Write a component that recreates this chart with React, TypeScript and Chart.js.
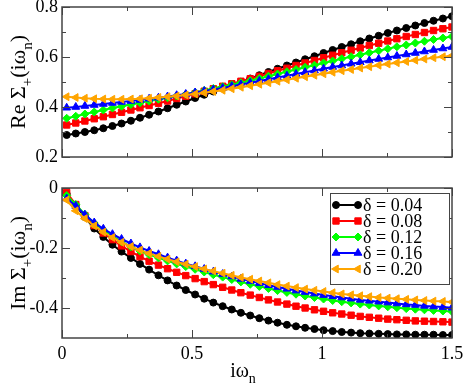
import React, { useEffect, useRef } from 'react';
import { Chart, registerables } from 'chart.js';
import { drawPoint } from 'chart.js/helpers';

Chart.register(...registerables);

const FAMILY = "'Liberation Serif', 'Times New Roman', serif";
Chart.defaults.font.family = FAMILY;

// Matsubara frequencies i·omega_n (x values)
const omega = [0.018, 0.053, 0.088, 0.124, 0.159, 0.194, 0.229, 0.265, 0.300, 0.335, 0.371, 0.406, 0.441, 0.476, 0.512, 0.547, 0.582, 0.618, 0.653, 0.688, 0.724, 0.759, 0.794, 0.829, 0.865, 0.900, 0.935, 0.971, 1.006, 1.041, 1.076, 1.112, 1.147, 1.182, 1.218, 1.253, 1.288, 1.324, 1.359, 1.394, 1.429, 1.465, 1.500];

const deltaLabels = ['δ = 0.04', 'δ = 0.08', 'δ = 0.12', 'δ = 0.16', 'δ = 0.20'];

// Re Sigma_+(i omega_n)
const reD004 = [0.288, 0.294, 0.300, 0.307, 0.315, 0.324, 0.334, 0.345, 0.357, 0.369, 0.382, 0.395, 0.409, 0.422, 0.436, 0.449, 0.462, 0.475, 0.488, 0.501, 0.514, 0.527, 0.540, 0.553, 0.566, 0.578, 0.591, 0.603, 0.616, 0.628, 0.640, 0.651, 0.663, 0.674, 0.685, 0.696, 0.706, 0.716, 0.726, 0.736, 0.745, 0.754, 0.763];
const reD008 = [0.328, 0.336, 0.344, 0.353, 0.361, 0.370, 0.379, 0.388, 0.397, 0.406, 0.415, 0.424, 0.434, 0.443, 0.453, 0.463, 0.473, 0.483, 0.493, 0.503, 0.513, 0.523, 0.534, 0.545, 0.555, 0.566, 0.576, 0.586, 0.597, 0.607, 0.617, 0.627, 0.636, 0.646, 0.655, 0.664, 0.673, 0.682, 0.690, 0.698, 0.706, 0.713, 0.720];
const reD012 = [0.355, 0.363, 0.372, 0.380, 0.388, 0.396, 0.403, 0.410, 0.417, 0.424, 0.431, 0.437, 0.444, 0.451, 0.458, 0.466, 0.474, 0.481, 0.489, 0.497, 0.505, 0.514, 0.523, 0.532, 0.541, 0.550, 0.559, 0.567, 0.576, 0.584, 0.593, 0.601, 0.609, 0.617, 0.625, 0.633, 0.641, 0.648, 0.656, 0.663, 0.670, 0.676, 0.682];
const reD016 = [0.397, 0.400, 0.404, 0.408, 0.412, 0.416, 0.420, 0.424, 0.428, 0.433, 0.437, 0.442, 0.447, 0.452, 0.458, 0.464, 0.470, 0.476, 0.483, 0.490, 0.497, 0.504, 0.511, 0.518, 0.525, 0.532, 0.539, 0.546, 0.553, 0.560, 0.566, 0.573, 0.579, 0.586, 0.592, 0.598, 0.604, 0.610, 0.616, 0.622, 0.628, 0.634, 0.640];
const reD020 = [0.441, 0.438, 0.435, 0.433, 0.432, 0.431, 0.431, 0.432, 0.433, 0.435, 0.438, 0.441, 0.444, 0.448, 0.452, 0.457, 0.462, 0.467, 0.473, 0.479, 0.485, 0.491, 0.497, 0.503, 0.509, 0.515, 0.521, 0.527, 0.533, 0.539, 0.545, 0.550, 0.556, 0.561, 0.567, 0.572, 0.577, 0.582, 0.587, 0.592, 0.597, 0.601, 0.605];

// Im Sigma_+(i omega_n)
const imD004 = [-0.020, -0.058, -0.097, -0.135, -0.163, -0.189, -0.212, -0.233, -0.253, -0.272, -0.291, -0.308, -0.325, -0.340, -0.355, -0.369, -0.382, -0.394, -0.405, -0.416, -0.425, -0.434, -0.442, -0.449, -0.456, -0.461, -0.466, -0.470, -0.474, -0.477, -0.480, -0.482, -0.484, -0.485, -0.486, -0.487, -0.488, -0.488, -0.489, -0.489, -0.489, -0.490, -0.490];
const imD008 = [-0.015, -0.055, -0.092, -0.125, -0.150, -0.172, -0.193, -0.212, -0.229, -0.244, -0.257, -0.269, -0.281, -0.292, -0.302, -0.312, -0.322, -0.331, -0.340, -0.349, -0.357, -0.365, -0.373, -0.380, -0.387, -0.394, -0.400, -0.406, -0.411, -0.416, -0.420, -0.424, -0.428, -0.431, -0.434, -0.437, -0.439, -0.441, -0.443, -0.444, -0.445, -0.446, -0.447];
const imD012 = [-0.025, -0.055, -0.088, -0.117, -0.140, -0.160, -0.179, -0.196, -0.210, -0.222, -0.233, -0.243, -0.253, -0.262, -0.271, -0.280, -0.289, -0.297, -0.305, -0.313, -0.321, -0.328, -0.335, -0.342, -0.348, -0.354, -0.360, -0.365, -0.370, -0.375, -0.379, -0.383, -0.387, -0.390, -0.393, -0.396, -0.399, -0.402, -0.404, -0.406, -0.408, -0.410, -0.412];
const imD016 = [-0.035, -0.060, -0.089, -0.115, -0.136, -0.154, -0.170, -0.185, -0.198, -0.210, -0.221, -0.232, -0.242, -0.252, -0.261, -0.270, -0.279, -0.287, -0.295, -0.303, -0.310, -0.317, -0.324, -0.330, -0.336, -0.342, -0.347, -0.352, -0.357, -0.361, -0.365, -0.369, -0.373, -0.376, -0.379, -0.382, -0.385, -0.388, -0.390, -0.393, -0.395, -0.397, -0.399];
const imD020 = [-0.040, -0.076, -0.102, -0.126, -0.147, -0.165, -0.181, -0.195, -0.207, -0.218, -0.228, -0.237, -0.246, -0.254, -0.262, -0.270, -0.277, -0.284, -0.291, -0.298, -0.304, -0.310, -0.316, -0.322, -0.327, -0.332, -0.337, -0.341, -0.345, -0.349, -0.353, -0.356, -0.359, -0.362, -0.365, -0.367, -0.369, -0.371, -0.373, -0.375, -0.377, -0.378, -0.380];

const xTicks = [0, 0.5, 1, 1.5];
const xMinorTicks = [0.25, 0.75, 1.25];
const reTicks = [0.2, 0.4, 0.6, 0.8];
const reMinorTicks = [0.3, 0.5, 0.7];
const imTicks = [-0.4, -0.2, 0];
const imMinorTicks = [-0.3, -0.1];

const colors = ['#000000', '#ff0000', '#00ff00', '#0000ff', '#ffa500'];
const pointStyles = ['circle', 'rect', 'rectRot', 'triangle', 'triangle'];
const pointRotations = [0, 0, 0, 0, -90];
const pointRadii = [3.5, 4.5, 4, 4.5, 4.5];

type Part = { t: string; sub?: boolean };

const fmt = (v: number) => (v === 0 ? '0' : Number.isInteger(v) ? String(v) : v.toFixed(1));

function makeDatasets(series: number[][]) {
  return series.map((ys, i) => ({
    label: deltaLabels[i],
    data: omega.map((x, k) => ({ x, y: ys[k] })),
    borderColor: colors[i],
    backgroundColor: colors[i],
    pointBackgroundColor: colors[i],
    pointBorderColor: colors[i],
    borderWidth: 2,
    pointRadius: pointRadii[i],
    pointStyle: pointStyles[i],
    pointRotation: pointRotations[i],
    pointBorderWidth: 1,
    tension: 0,
    order: 4 - i,
  }));
}

function drawParts(ctx: CanvasRenderingContext2D, parts: Part[], cx: number, cy: number, rotate: boolean, size: number) {
  const main = `${size}px ${FAMILY}`;
  const sub = `${Math.round(size * 0.7)}px ${FAMILY}`;
  let w = 0;
  for (const p of parts) {
    ctx.font = p.sub ? sub : main;
    w += ctx.measureText(p.t).width;
  }
  ctx.save();
  ctx.translate(cx, cy);
  if (rotate) ctx.rotate(-Math.PI / 2);
  ctx.fillStyle = '#000';
  ctx.textAlign = 'left';
  ctx.textBaseline = 'alphabetic';
  let u = -w / 2;
  for (const p of parts) {
    ctx.font = p.sub ? sub : main;
    ctx.fillText(p.t, u, p.sub ? size * 0.3 : 0);
    u += ctx.measureText(p.t).width;
  }
  ctx.restore();
}

function framePlugin(yMajor: number[], yMinor: number[]) {
  return {
    id: 'frameTicks',
    afterDatasetsDraw(chart: any) {
      const { ctx, chartArea: a, scales } = chart;
      const xs = scales.x;
      const ys = scales.y;
      ctx.save();
      ctx.strokeStyle = '#444';
      ctx.lineWidth = 1;
      const line = (x1: number, y1: number, x2: number, y2: number) => {
        ctx.beginPath();
        ctx.moveTo(x1, y1);
        ctx.lineTo(x2, y2);
        ctx.stroke();
      };
      const tx = (v: number, len: number) => {
        const p = Math.round(xs.getPixelForValue(v)) + 0.5;
        line(p, a.bottom, p, a.bottom - len);
        line(p, a.top, p, a.top + len);
      };
      const ty = (v: number, len: number) => {
        const p = Math.round(ys.getPixelForValue(v)) + 0.5;
        line(a.left, p, a.left + len, p);
        line(a.right, p, a.right - len, p);
      };
      xTicks.forEach((v) => tx(v, 8));
      xMinorTicks.forEach((v) => tx(v, 4));
      yMajor.forEach((v) => ty(v, 8));
      yMinor.forEach((v) => ty(v, 4));
      ctx.lineWidth = 1.5;
      ctx.strokeRect(a.left, a.top, a.right - a.left, a.bottom - a.top);
      ctx.restore();
    },
  };
}

function titlePlugin(yParts: Part[], xParts: Part[] | null) {
  return {
    id: 'axisTitles',
    afterDraw(chart: any) {
      const { ctx, chartArea: a } = chart;
      drawParts(ctx, yParts, 25, (a.top + a.bottom) / 2, true, 22);
      if (xParts) drawParts(ctx, xParts, 243, 205, false, 20);
    },
  };
}

const legendPlugin = {
  id: 'boxLegend',
  afterDraw(chart: any) {
    const ctx: CanvasRenderingContext2D = chart.ctx;
    ctx.save();
    ctx.fillStyle = '#fff';
    ctx.fillRect(330, 21, 119, 91);
    ctx.strokeStyle = '#444';
    ctx.lineWidth = 1;
    ctx.strokeRect(330.5, 21.5, 119, 91);
    deltaLabels.forEach((lab, i) => {
      const y = 33 + i * 16;
      ctx.strokeStyle = colors[i];
      ctx.fillStyle = colors[i];
      ctx.lineWidth = 2;
      ctx.beginPath();
      ctx.moveTo(336, y);
      ctx.lineTo(358, y);
      ctx.stroke();
      const opt = { pointStyle: pointStyles[i], rotation: pointRotations[i], radius: pointRadii[i], borderWidth: 1 };
      ctx.lineWidth = 1;
      drawPoint(ctx, opt as any, 336, y);
      drawPoint(ctx, opt as any, 358, y);
      ctx.fillStyle = '#000';
      ctx.font = `18px ${FAMILY}`;
      ctx.textAlign = 'left';
      ctx.textBaseline = 'alphabetic';
      ctx.fillText(lab, 363, y + 6);
    });
    ctx.restore();
  },
};

function baseOptions(yMin: number, yMax: number, yTickVals: number[], showX: boolean) {
  return {
    responsive: false,
    animation: false as const,
    events: [],
    layout: { padding: showX ? { top: 16, right: 11, bottom: 0, left: 0 } : { top: 7, right: 11, bottom: 15, left: 0 } },
    plugins: { legend: { display: false }, tooltip: { enabled: false } },
    scales: {
      x: {
        type: 'linear' as const,
        min: 0,
        max: 1.5,
        display: showX,
        grid: { display: false, drawTicks: false },
        border: { display: false },
        afterBuildTicks: (s: any) => {
          s.ticks = xTicks.map((v) => ({ value: v }));
        },
        ticks: { color: '#000', font: { size: 18, family: FAMILY }, padding: 5, maxRotation: 0, autoSkip: false, callback: (v: any) => fmt(Number(v)) },
        afterFit: (s: any) => {
          s.height = showX ? 47 : 0;
          s.paddingLeft = 0;
          s.paddingRight = 0;
        },
      },
      y: {
        type: 'linear' as const,
        min: yMin,
        max: yMax,
        grid: { display: false, drawTicks: false },
        border: { display: false },
        afterBuildTicks: (s: any) => {
          s.ticks = yTickVals.map((v) => ({ value: v }));
        },
        ticks: { color: '#000', font: { size: 18, family: FAMILY }, padding: 4, autoSkip: false, callback: (v: any) => fmt(Number(v)) },
        afterFit: (s: any) => {
          s.width = 62;
          s.paddingTop = 0;
          s.paddingBottom = 0;
        },
      },
    },
  };
}

export default function App() {
  const topRef = useRef<HTMLCanvasElement>(null);
  const botRef = useRef<HTMLCanvasElement>(null);

  useEffect(() => {
    const c1 = new Chart(topRef.current!, {
      type: 'line',
      data: { datasets: makeDatasets([reD004, reD008, reD012, reD016, reD020]) as any },
      options: baseOptions(0.2, 0.8, reTicks, false) as any,
      plugins: [framePlugin(reTicks, reMinorTicks), titlePlugin([{ t: 'Re Σ' }, { t: '+', sub: true }, { t: '(iω' }, { t: 'n', sub: true }, { t: ')' }], null)],
    });
    const c2 = new Chart(botRef.current!, {
      type: 'line',
      data: { datasets: makeDatasets([imD004, imD008, imD012, imD016, imD020]) as any },
      options: baseOptions(-0.5, 0, imTicks, true) as any,
      plugins: [
        framePlugin(imTicks, imMinorTicks),
        titlePlugin([{ t: 'Im Σ' }, { t: '+', sub: true }, { t: '(iω' }, { t: 'n', sub: true }, { t: ')' }], [{ t: 'iω' }, { t: 'n', sub: true }]),
        legendPlugin,
      ],
    });
    return () => {
      c1.destroy();
      c2.destroy();
    };
  }, []);

  return (
    <div style={{ position: 'absolute', left: 0, top: 0, width: 463, height: 385, background: '#fff' }}>
      <canvas ref={topRef} width={463} height={172} style={{ position: 'absolute', left: 0, top: 0 }} />
      <canvas ref={botRef} width={463} height={213} style={{ position: 'absolute', left: 0, top: 172 }} />
    </div>
  );
}
